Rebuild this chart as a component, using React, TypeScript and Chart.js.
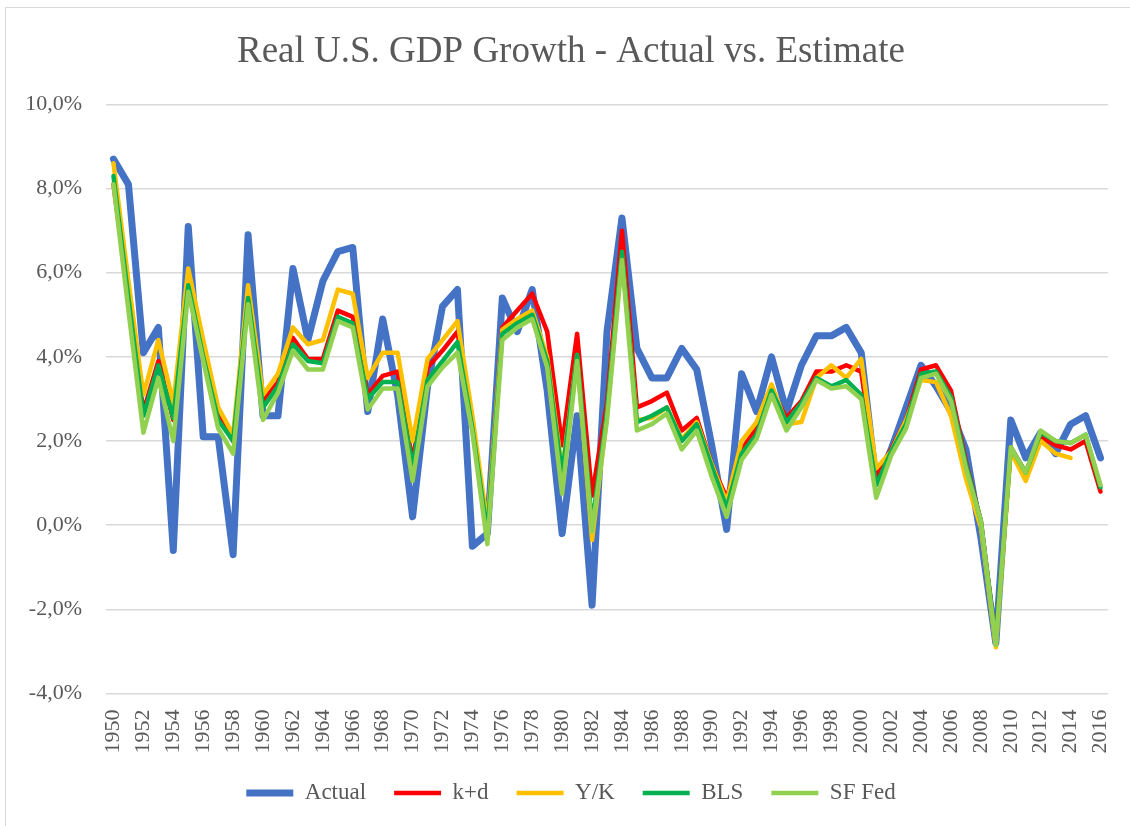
import React, { useEffect, useRef } from "react";
import { Chart, registerables } from "chart.js";

Chart.register(...registerables);

const years: string[] = [
  "1950","1951","1952","1953","1954","1955","1956","1957","1958","1959",
  "1960","1961","1962","1963","1964","1965","1966","1967","1968","1969",
  "1970","1971","1972","1973","1974","1975","1976","1977","1978","1979",
  "1980","1981","1982","1983","1984","1985","1986","1987","1988","1989",
  "1990","1991","1992","1993","1994","1995","1996","1997","1998","1999",
  "2000","2001","2002","2003","2004","2005","2006","2007","2008","2009",
  "2010","2011","2012","2013","2014","2015","2016",
];

const actual: number[] = [
  8.7, 8.1, 4.1, 4.7, -0.6, 7.1, 2.1, 2.1, -0.7, 6.9,
  2.6, 2.6, 6.1, 4.4, 5.8, 6.5, 6.6, 2.7, 4.9, 3.1,
  0.2, 3.3, 5.2, 5.6, -0.5, -0.2, 5.4, 4.6, 5.6, 3.2,
  -0.2, 2.6, -1.9, 4.6, 7.3, 4.2, 3.5, 3.5, 4.2, 3.7,
  1.9, -0.1, 3.6, 2.7, 4.0, 2.7, 3.8, 4.5, 4.5, 4.7,
  4.1, 1.0, 1.8, 2.8, 3.8, 3.3, 2.7, 1.8, -0.3, -2.8,
  2.5, 1.6, 2.2, 1.7, 2.4, 2.6, 1.6,
];

const kPlusD: number[] = [
  8.1, 5.4, 2.7, 3.9, 2.5, 5.8, 4.1, 2.6, 2.0, 5.5,
  2.95, 3.4, 4.45, 3.95, 3.95, 5.1, 4.95, 3.1, 3.55, 3.65,
  1.5, 3.75, 4.15, 4.6, 2.4, -0.1, 4.7, 5.1, 5.5, 4.6,
  1.9, 4.55, 0.7, 2.9, 7.0, 2.8, 2.95, 3.15, 2.25, 2.55,
  1.45, 0.65, 1.8, 2.3, 3.2, 2.55, 2.95, 3.65, 3.65, 3.8,
  3.65, 1.15, 1.8, 2.5, 3.7, 3.8, 3.2, 1.5, 0.1, -2.8,
  1.85, 1.25, 2.1, 1.9, 1.8, 2.0, 0.8,
];

const yOverK: (number | null)[] = [
  8.6, 5.8, 3.1, 4.4, 2.9, 6.1, 4.4, 2.8, 2.15, 5.7,
  3.1, 3.6, 4.7, 4.3, 4.4, 5.6, 5.5, 3.5, 4.1, 4.1,
  2.0, 3.95, 4.4, 4.85, 2.6, 0.0, 4.65, 4.9, 5.1, 4.0,
  1.3, 4.0, -0.35, 2.6, 6.4, 2.5, 2.55, 2.8, 2.05, 2.45,
  1.45, 0.55, 2.0, 2.45, 3.35, 2.4, 2.45, 3.5, 3.8, 3.5,
  3.95, 1.35, 1.75, 2.5, 3.45, 3.4, 2.6, 1.1, -0.05, -2.9,
  1.75, 1.05, 2.0, 1.7, 1.6, null, null,
];

const bls: number[] = [
  8.3, 5.4, 2.6, 3.8, 2.55, 5.7, 4.0, 2.5, 2.0, 5.4,
  2.8, 3.3, 4.3, 3.9, 3.85, 4.95, 4.8, 3.0, 3.4, 3.4,
  1.4, 3.45, 3.9, 4.35, 2.3, -0.2, 4.55, 4.8, 5.0, 3.9,
  1.2, 4.05, 0.0, 2.7, 6.5, 2.45, 2.6, 2.8, 2.0, 2.4,
  1.4, 0.4, 1.7, 2.15, 3.2, 2.45, 2.9, 3.5, 3.3, 3.45,
  3.1, 0.95, 1.75, 2.4, 3.6, 3.65, 3.05, 1.45, 0.1, -2.8,
  1.85, 1.25, 2.2, 2.0, 1.95, 2.15, 0.9,
];

const sfFed: number[] = [
  8.1, 5.1, 2.2, 3.5, 2.0, 5.55, 3.9, 2.3, 1.7, 5.25,
  2.5, 3.15, 4.15, 3.7, 3.7, 4.85, 4.7, 2.75, 3.25, 3.25,
  1.05, 3.3, 3.75, 4.1, 2.2, -0.45, 4.4, 4.7, 4.9, 3.75,
  0.75, 3.9, -0.15, 2.5, 6.3, 2.25, 2.4, 2.65, 1.8, 2.25,
  1.15, 0.2, 1.55, 2.05, 3.1, 2.25, 2.8, 3.45, 3.25, 3.3,
  3.0, 0.65, 1.65, 2.3, 3.5, 3.6, 2.95, 1.35, 0.1, -2.85,
  1.85, 1.25, 2.25, 2.0, 1.95, 2.15, 0.95,
];

const FONT = "'Liberation Serif', 'Times New Roman', serif";
const TEXT = "#595959";

export default function App() {
  const ref = useRef<HTMLCanvasElement | null>(null);

  useEffect(() => {
    if (!ref.current) return;
    const mk = (label: string, data: (number | null)[], color: string, width: number, order: number) => ({
      label,
      data,
      borderColor: color,
      backgroundColor: color,
      borderWidth: width,
      pointRadius: 0,
      pointHoverRadius: 0,
      tension: 0,
      borderCapStyle: "round" as const,
      borderJoinStyle: "round" as const,
      fill: false,
      spanGaps: false,
      order,
    });
    const chart = new Chart(ref.current, {
      type: "line",
      data: {
        labels: years,
        datasets: [
          mk("Actual", actual, "#4472C4", 7, 5),
          mk("k+d", kPlusD, "#FF0000", 4.5, 4),
          mk("Y/K", yOverK, "#FFC000", 4.5, 3),
          mk("BLS", bls, "#00B050", 4.5, 2),
          mk("SF Fed", sfFed, "#92D050", 4.5, 1),
        ],
      },
      options: {
        responsive: false,
        animation: false,
        layout: { padding: { left: 25, right: 13, top: 0, bottom: 11.5 } },
        plugins: {
          title: {
            display: true,
            text: "Real U.S. GDP Growth - Actual vs. Estimate",
            color: TEXT,
            font: { family: FONT, size: 37, weight: "normal" },
            padding: { top: 30, bottom: 30 },
          },
          legend: {
            position: "bottom",
            labels: {
              usePointStyle: true,
              pointStyle: "line",
              pointStyleWidth: 47,
              color: TEXT,
              font: { family: FONT, size: 23 },
              padding: 28,
              sort: (a: any, b: any) => a.datasetIndex - b.datasetIndex,
            },
          },
          tooltip: { enabled: false },
        },
        scales: {
          x: {
            type: "category",
            offset: true,
            grid: { display: false, drawTicks: false },
            border: { display: false },
            ticks: {
              autoSkip: false,
              maxRotation: 90,
              minRotation: 90,
              padding: 16,
              color: TEXT,
              font: { family: FONT, size: 22 },
              callback: (_v: any, i: number) => (i % 2 === 0 ? years[i] : null),
            },
            afterFit: (scale: any) => {
              scale.height = 60;
              scale.paddingLeft = 0;
              scale.paddingRight = 22;
            },
          },
          y: {
            min: -4,
            max: 10,
            grid: { color: "#d9d9d9", lineWidth: 1.5, drawTicks: false },
            border: { display: false },
            ticks: {
              stepSize: 2,
              padding: 24,
              color: TEXT,
              font: { family: FONT, size: 22 },
              callback: (v: any) => Number(v).toFixed(1).replace(".", ",") + "%",
            },
            afterFit: (scale: any) => {
              scale.width = 81;
            },
          },
        },
      },
    });
    return () => chart.destroy();
  }, []);

  return (
    <div style={{ position: "absolute", left: 0, top: 0, width: 1130, height: 826, overflow: "hidden", background: "#fff" }}>
      <canvas ref={ref} width={1130} height={826} style={{ display: "block" }} />
      <div
        style={{
          position: "absolute",
          left: 5,
          top: 7,
          width: 1140,
          height: 840,
          border: "1.5px solid #d9d9d9",
          pointerEvents: "none",
        }}
      />
    </div>
  );
}
